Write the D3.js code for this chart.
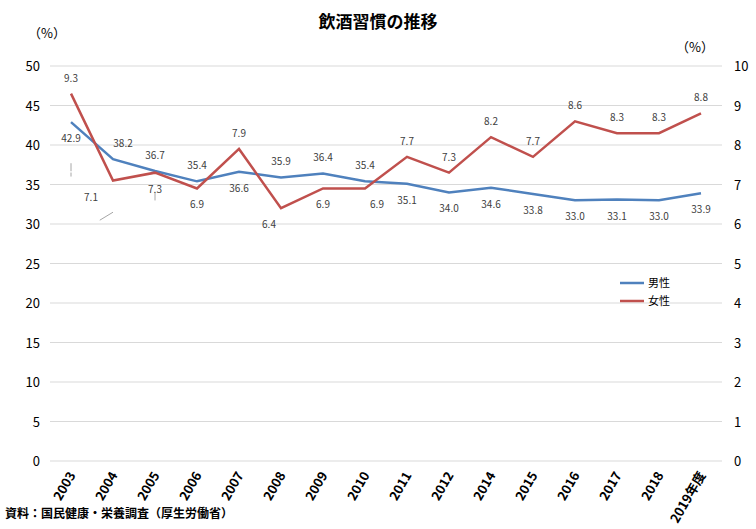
<!DOCTYPE html>
<html><head><meta charset="utf-8">
<script src="https://cdn.jsdelivr.net/npm/d3@7"></script>
<style>body{margin:0;background:#fff}text{font-family:"Noto Sans CJK JP","Noto Sans",sans-serif}</style>
</head><body><svg id="c" width="756" height="529"></svg>
<script>
const years=["2003","2004","2005","2006","2007","2008","2009","2010","2011","2012","2014","2015","2016","2017","2018","2019年度"];
const male=[42.9,38.2,36.7,35.4,36.6,35.9,36.4,35.4,35.1,34.0,34.6,33.8,33.0,33.1,33.0,33.9];
const female=[9.3,7.1,7.3,6.9,7.9,6.4,6.9,6.9,7.7,7.3,8.2,7.7,8.6,8.3,8.3,8.8];
const leftTicks=d3.range(0,51,5), rightTicks=d3.range(0,11,1);
// label side: 1 = above, -1 = below; dx shift
const maleSide=[-1,1,1,1,-1,1,1,1,-1,-1,-1,-1,-1,-1,-1,-1];
const femSide=[1,-1,-1,-1,1,-1,-1,-1,1,1,1,1,1,1,1,1];
const maleDx=[0,10,0,0,0,0,0,0,0,0,0,0,0,0,0,0];
const femDx=[0,-22,0,0,0,-12,0,12,0,0,0,0,0,0,0,0];

const svg=d3.select("#c");
const L=50,R=722,T=66,B=461;
const x=d3.scaleBand().domain(years).range([L,R]);
const yl=d3.scaleLinear().domain([0,50]).range([B,T]);
const yr=d3.scaleLinear().domain([0,10]).range([B,T]);
const cx=d=>x(d)+x.bandwidth()/2;

svg.append("text").attr("x",378).attr("y",28).attr("text-anchor","middle").attr("font-size",17).attr("font-weight","bold").text("飲酒習慣の推移");
svg.append("text").attr("x",28).attr("y",38).attr("font-size",13).text("（%）");
svg.append("text").attr("x",676).attr("y",52).attr("font-size",13).text("（%）");

svg.append("g").selectAll("line").data(leftTicks).join("line")
 .attr("x1",L).attr("x2",R).attr("y1",d=>yl(d)).attr("y2",d=>yl(d)).attr("stroke","#d9d9d9");
svg.append("g").selectAll("text").data(leftTicks).join("text")
 .attr("x",40).attr("y",d=>yl(d)+5).attr("text-anchor","end").attr("font-size",13).text(d=>d);
svg.append("g").selectAll("text").data(rightTicks).join("text")
 .attr("x",734).attr("y",d=>yr(d)+5).attr("font-size",13).text(d=>d);
svg.append("g").selectAll("text").data(years).join("text")
 .attr("transform",d=>`translate(${cx(d)+5},${B+14}) rotate(-60)`).attr("text-anchor","end").attr("font-size",13).attr("font-weight","bold").text(d=>d);

const lm=d3.line().x((d,i)=>cx(years[i])).y(d=>yl(d));
const lf=d3.line().x((d,i)=>cx(years[i])).y(d=>yr(d));
svg.append("path").attr("d",lm(male)).attr("fill","none").attr("stroke","#4f81bd").attr("stroke-width",2.5);
svg.append("path").attr("d",lf(female)).attr("fill","none").attr("stroke","#c0504d").attr("stroke-width",2.5);

function labels(vals,side,dx,sc){
 const g=svg.append("g");
 g.selectAll("line").data(vals).join("line").filter((d,i)=>dx[i]!==0)
  .attr("x1",(d,i)=>cx(years[i])).attr("y1",(d,i)=>sc(d)+(side[i]>0?-4:4))
  .attr("x2",(d,i)=>cx(years[i])+dx[i]*0.6).attr("y2",(d,i)=>sc(d)+(side[i]>0?-8:12))
  .attr("stroke","#a6a6a6");
 g.selectAll("text").data(vals).join("text")
  .attr("x",(d,i)=>cx(years[i])+dx[i]).attr("y",(d,i)=>sc(d)+(side[i]>0?-12:20))
  .attr("text-anchor","middle").attr("font-size",10).attr("fill","#404040").text(d=>d.toFixed(1));
}
labels(male,maleSide,maleDx,yl);labels(female,femSide,femDx,yr);

const lg=svg.append("g").attr("transform","translate(620,283)");
[["男性","#4f81bd"],["女性","#c0504d"]].forEach((s,i)=>{
 lg.append("line").attr("x1",0).attr("x2",24).attr("y1",i*18).attr("y2",i*18).attr("stroke",s[1]).attr("stroke-width",2.5);
 lg.append("text").attr("x",28).attr("y",i*18+4).attr("font-size",11).text(s[0]);
});
svg.append("text").attr("x",5).attr("y",518).attr("font-size",12).attr("font-weight","bold").text("資料：国民健康・栄養調査（厚生労働省）");
</script></body></html>
